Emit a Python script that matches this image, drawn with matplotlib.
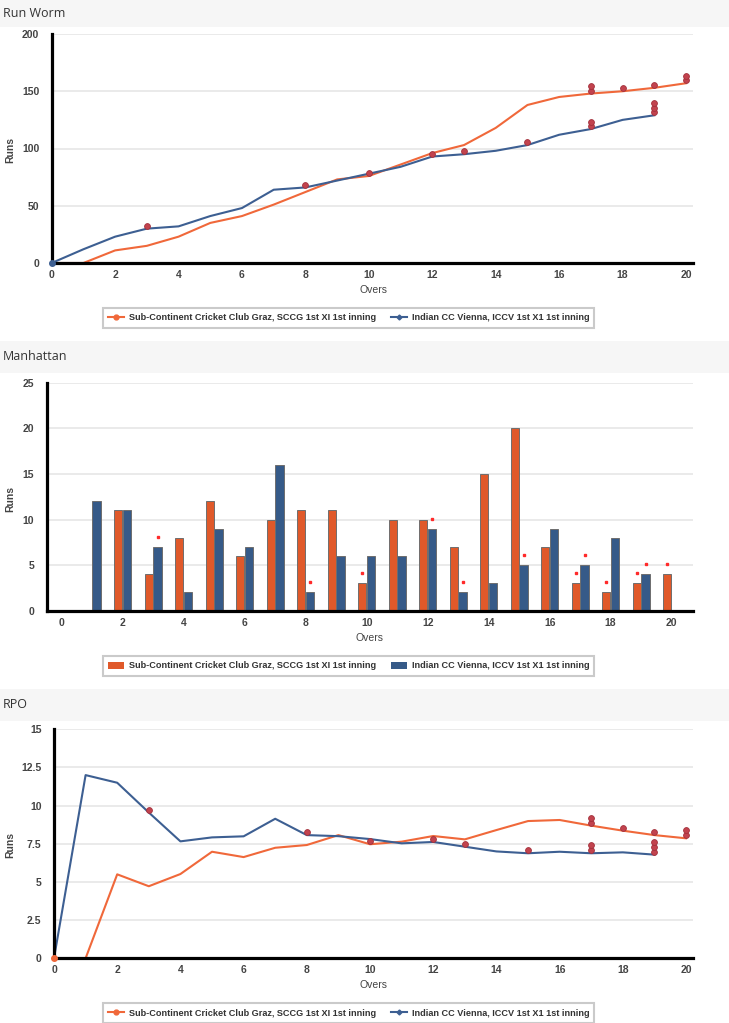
import matplotlib
matplotlib.use('Agg')
import matplotlib.pyplot as plt
from matplotlib.transforms import offset_copy
from matplotlib.lines import Line2D
from matplotlib.patches import Patch, Rectangle

# ---------------- data ----------------
team_a = "Sub-Continent Cricket Club Graz, SCCG 1st XI 1st inning"
team_b = "Indian CC Vienna, ICCV 1st X1 1st inning"

a_overs = list(range(0, 21))
b_overs = list(range(0, 20))

# Run worm (cumulative runs)
a_cum = [0, 0, 11, 15, 23, 35, 41, 51, 62, 73, 76, 86, 96, 103, 118, 138, 145, 148, 150, 153, 157]
b_cum = [0, 12, 23, 30, 32, 41, 48, 64, 66, 72, 78, 84, 93, 95, 98, 103, 112, 117, 125, 129]

# Manhattan (runs per over, overs 1..)
bar_overs_a = list(range(1, 21))
bar_overs_b = list(range(1, 20))
a_per_over = [0, 11, 4, 8, 12, 6, 10, 11, 11, 3, 10, 10, 7, 15, 20, 7, 3, 2, 3, 4]
b_per_over = [12, 11, 7, 2, 9, 7, 16, 2, 6, 6, 6, 9, 2, 3, 5, 9, 5, 8, 4]

# RPO
a_rpo = [0, 0, 5.5, 4.72, 5.52, 6.98, 6.63, 7.24, 7.42, 8.07, 7.47, 7.64, 8.01, 7.79, 8.4,
         8.99, 9.06, 8.69, 8.36, 8.07, 7.86]
b_rpo = [0, 12.0, 11.5, 9.55, 7.66, 7.92, 7.99, 9.14, 8.07, 8.0, 7.81, 7.53, 7.62, 7.31,
         7.0, 6.88, 6.98, 6.88, 6.94, 6.79]

# Wickets: over -> number of wickets fallen in that over
a_wickets = {10: 1, 17: 2, 18: 1, 19: 1, 20: 2}
b_wickets = {3: 1, 8: 1, 12: 1, 13: 1, 15: 1, 17: 2, 19: 3}

x_ticks = list(range(0, 21, 2))
worm_yticks = [0, 50, 100, 150, 200]
manh_yticks = [0, 5, 10, 15, 20, 25]
rpo_yticks = [0, 2.5, 5, 7.5, 10, 12.5, 15]
rpo_ylabels = ["0", "2.5", "5", "7.5", "10", "12.5", "15"]

# ---------------- style ----------------
W, H = 729, 1023
ORANGE = '#f0683a'
BLUE = '#3d5f92'
BAR_OR = '#e0592a'
BAR_BL = '#365a88'
DOT_FC = '#c2434e'
DOT_EC = '#a3303b'
TXT = '#444444'
FONT = ['Liberation Sans', 'DejaVu Sans']
NARROW = ['Liberation Sans Narrow', 'Liberation Sans', 'DejaVu Sans']

fig = plt.figure(figsize=(W / 100, H / 100), dpi=100)
fig.patch.set_facecolor('white')


def fy(py):
    return 1 - py / H


def add_ax(l, r, t, b):
    return fig.add_axes([l / W, 1 - b / H, (r - l) / W, (b - t) / H])


def header(y0, y1, text):
    fig.add_artist(Rectangle((0, fy(y1)), 1, (y1 - y0) / H, transform=fig.transFigure,
                             facecolor='#f6f6f6', edgecolor='none', zorder=0))
    fig.text(3 / W, fy((y0 + y1) / 2), text, fontsize=9, color='#333333',
             family=['Open Sans', 'DejaVu Sans'], va='center', ha='left')


def style_ax(ax, yticks, ylabels=None):
    for s in ['top', 'right']:
        ax.spines[s].set_visible(False)
    for s in ['left', 'bottom']:
        ax.spines[s].set_linewidth(2.3)
        ax.spines[s].set_color('black')
        ax.spines[s].set_zorder(5)
    ax.set_xticks(x_ticks)
    ax.set_yticks(yticks)
    if ylabels is not None:
        ax.set_yticklabels(ylabels)
    ax.tick_params(axis='both', length=0, labelsize=7.5, labelcolor=TXT)
    ax.tick_params(axis='y', pad=9)
    ax.tick_params(axis='x', pad=5)
    for lab in ax.get_xticklabels() + ax.get_yticklabels():
        lab.set_fontweight('bold')
        lab.set_family(FONT)
    ax.yaxis.grid(True, color='#e8e8e8', linewidth=1.3)
    ax.set_axisbelow(True)


def axis_labels(xc, yover, yruns):
    fig.text(xc / W, fy(yover), 'Overs', fontsize=7.5, color=TXT, family=FONT,
             ha='center', va='center')
    fig.text(10 / W, fy(yruns), 'Runs', fontsize=7.5, color=TXT, family=FONT,
             fontweight='bold', rotation=90, ha='center', va='center')


def legend(handles, ycenter):
    leg = fig.legend(handles=handles, labels=[team_a, team_b], ncol=2, loc='center',
                     bbox_to_anchor=(348.5 / W, fy(ycenter)), frameon=True, fancybox=False,
                     fontsize=6.6, handlelength=1.8, handletextpad=0.5, columnspacing=1.6,
                     borderpad=0.55, prop={'family': NARROW, 'weight': 'bold', 'size': 6.6})
    leg.get_frame().set_edgecolor('#bdbdbd')
    leg.get_frame().set_linewidth(1.5)
    for t in leg.get_texts():
        t.set_color('#333333')
    return leg


def wicket_dots(ax, xs, ys, wk, first_pt, step_pt):
    for over, n in wk.items():
        yv = ys[xs.index(over)]
        for k in range(n):
            tr = offset_copy(ax.transData, fig=fig, x=0, y=first_pt + k * step_pt,
                             units='points')
            ax.plot([over], [yv], marker='o', markersize=4.2, markerfacecolor=DOT_FC,
                    markeredgecolor=DOT_EC, markeredgewidth=0.6, linestyle='none',
                    transform=tr, zorder=6, clip_on=False)


line_handles = [Line2D([0], [0], color=ORANGE, lw=1.5, marker='o', markersize=3.5),
                Line2D([0], [0], color=BLUE, lw=1.5, marker='D', markersize=2.5)]

# ---------------- Run worm ----------------
header(0, 27, 'Run Worm')
ax1 = add_ax(51.7, 693, 34, 263)
ax1.plot(a_overs, a_cum, color=ORANGE, lw=1.5, zorder=3)
ax1.plot(b_overs, b_cum, color=BLUE, lw=1.5, zorder=3)
ax1.plot([0], [0], marker='o', markersize=4, color=BLUE, zorder=6, clip_on=False)
ax1.set_xlim(0, 20.22)
ax1.set_ylim(0, 200)
style_ax(ax1, worm_yticks)
wicket_dots(ax1, a_overs, a_cum, a_wickets, 2.1, 3.3)
wicket_dots(ax1, b_overs, b_cum, b_wickets, 2.1, 3.3)
axis_labels(373, 290, 150)
legend(line_handles, 318)

# ---------------- Manhattan ----------------
header(341, 373, 'Manhattan')
ax2 = add_ax(46.7, 693.3, 382.7, 610.7)
xa = [o - 0.145 for o in bar_overs_a]
xb = [o + 0.145 for o in bar_overs_b]
ax2.bar(xa, a_per_over, width=0.27, color=BAR_OR, edgecolor='#6e6e6e', linewidth=0.7, zorder=3)
ax2.bar(xb, b_per_over, width=0.27, color=BAR_BL, edgecolor='#6e6e6e', linewidth=0.7, zorder=3)
for over in a_wickets:
    ax2.plot([over - 0.145], [a_per_over[bar_overs_a.index(over)] + 1.1], marker='s',
             markersize=1.8, color='#ff2a2a', linestyle='none', zorder=6)
for over in b_wickets:
    ax2.plot([over + 0.145], [b_per_over[bar_overs_b.index(over)] + 1.1], marker='s',
             markersize=1.8, color='#ff2a2a', linestyle='none', zorder=6)
ax2.set_xlim(-0.49, 20.71)
ax2.set_ylim(0, 25)
style_ax(ax2, manh_yticks)
axis_labels(370, 638, 499)
bar_handles = [Patch(facecolor=BAR_OR, edgecolor='none'), Patch(facecolor=BAR_BL, edgecolor='none')]
legend(bar_handles, 666)

# ---------------- RPO ----------------
header(689, 721, 'RPO')
ax3 = add_ax(54, 693.3, 729.3, 958.3)
ax3.plot(a_overs, a_rpo, color=ORANGE, lw=1.5, zorder=3)
ax3.plot(b_overs, b_rpo, color=BLUE, lw=1.5, zorder=3)
ax3.plot([0], [0], marker='o', markersize=4, color=ORANGE, zorder=6, clip_on=False)
ax3.set_xlim(0, 20.23)
ax3.set_ylim(0, 15)
style_ax(ax3, rpo_yticks, rpo_ylabels)
wicket_dots(ax3, a_overs, a_rpo, a_wickets, 2.1, 3.6)
wicket_dots(ax3, b_overs, b_rpo, b_wickets, 2.1, 3.6)
axis_labels(373, 985, 845)
legend(line_handles, 1013)

fig.savefig('out.png', dpi=100)
